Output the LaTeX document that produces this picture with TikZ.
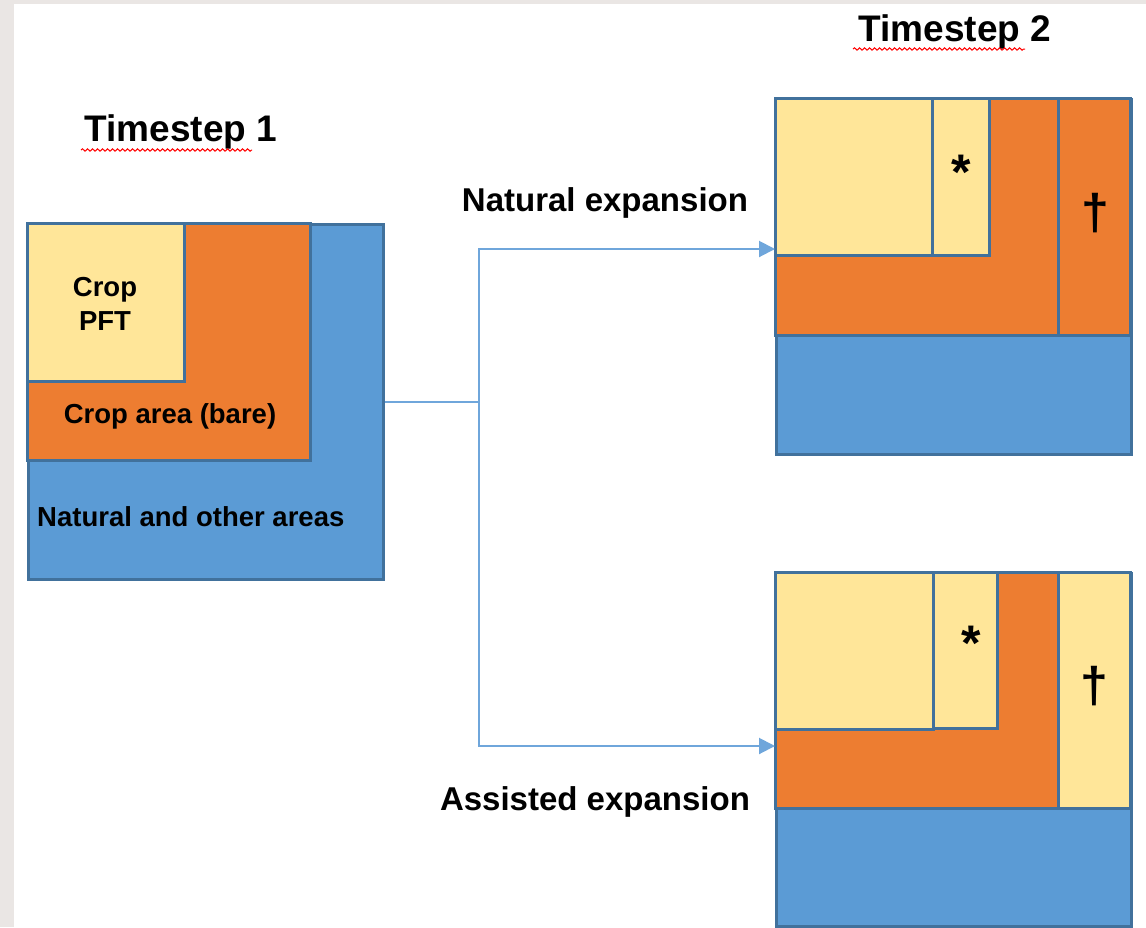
\documentclass[tikz,border=0pt]{standalone}
\usepackage{fontspec}
\setmainfont{Liberation Sans}
\usepackage{tikz}
\usetikzlibrary{arrows.meta,decorations.pathmorphing,positioning}
\definecolor{cropyellow}{HTML}{FFE699}
\definecolor{bareorange}{HTML}{ED7D31}
\definecolor{natblue}{HTML}{5B9BD5}
\definecolor{edgeblue}{HTML}{41719C}
\definecolor{arrowblue}{HTML}{6FA6DB}
\definecolor{marble}{HTML}{EAE6E4}

\tikzset{
  patch/.style={draw=edgeblue, line width=3pt},
  areabox/.style={patch, rectangle, inner sep=0pt, anchor=north west},
  lbl/.style={font=\bfseries\fontsize{27.5}{34}\selectfont, inner sep=0pt},
  steptitle/.style={font=\bfseries\fontsize{37}{40}\selectfont, inner sep=0pt},
  expname/.style={font=\bfseries\fontsize{33}{36}\selectfont, inner sep=0pt},
  mark sym/.style={font=\bfseries\fontsize{50}{52}\selectfont, inner sep=0pt},
  flowline/.style={arrowblue, line width=2pt},
  spell/.style={red, line width=1pt, decorate, decoration={snake, amplitude=1.2pt, segment length=5pt}}
}

\begin{document}
\begin{tikzpicture}[x=1pt,y=-1pt]
\useasboundingbox (0,0) rectangle (1146,927);
\fill[marble] (0,0) rectangle (1146,927);
\fill[white] (14,4) rectangle (1146,927);

% timestep 1
\node[areabox, fill=natblue, minimum width=355pt, minimum height=355pt] (t1) at (27,223) {};
\filldraw[patch, fill=bareorange] (27,223) rectangle (310,460);
\filldraw[patch, fill=cropyellow] (27,223) rectangle (184,381);
\node[lbl, align=center] (pft) at (105,304) {Crop\\PFT};
\node[lbl] (bare) at (170,416) {Crop area (bare)};
\node[lbl, anchor=west] (natural) at (37,517) {Natural and other areas};
\node[steptitle] (ts1) at (181,132) {Timestep 1};
\draw[spell] (81,150) -- (252,150);

% timestep 2, natural expansion
\node[areabox, fill=natblue, minimum width=355pt, minimum height=355pt] (t2n) at (775,98) {};
\filldraw[patch, fill=bareorange] (775,98) rectangle (1058,335);
\filldraw[patch, fill=bareorange] (1058,98) rectangle (1130,335);
\filldraw[patch, fill=cropyellow] (775,98) rectangle (932,255);
\filldraw[patch, fill=cropyellow] (932,98) rectangle (989,255);
\node[mark sym] (star1) at (961,172) {*};
\node[mark sym] (dag1) at (1095,213) {†};
\node[steptitle] (ts2) at (955,32) {Timestep 2};
\draw[spell] (853,49) -- (1025,49);

% timestep 2, assisted expansion
\node[areabox, fill=natblue, minimum width=355pt, minimum height=353pt] (t2a) at (775,572) {};
\filldraw[patch, fill=bareorange] (775,572) rectangle (1058,808);
\filldraw[patch, fill=cropyellow] (1058,572) rectangle (1130,808);
\filldraw[patch, fill=cropyellow] (775,572) rectangle (933,729);
\filldraw[patch, fill=cropyellow] (933,572) rectangle (997,728);
\node[mark sym] (star2) at (971,643) {*};
\node[mark sym] (dag2) at (1094,686) {†};

% connectors
\coordinate (natin) at (775,249);
\coordinate (assin) at (775,746);
\draw[flowline] (t1.east) -- ++(94,0) coordinate (fork);
\draw[flowline, -{Triangle[length=16pt,width=16pt]}] (fork) |- (natin);
\draw[flowline, -{Triangle[length=16pt,width=16pt]}] (fork) |- (assin);
\node[expname] (natexp) at (605,203) {Natural expansion};
\node[expname] (assexp) at (595,802) {Assisted expansion};

\end{tikzpicture}
\end{document}
